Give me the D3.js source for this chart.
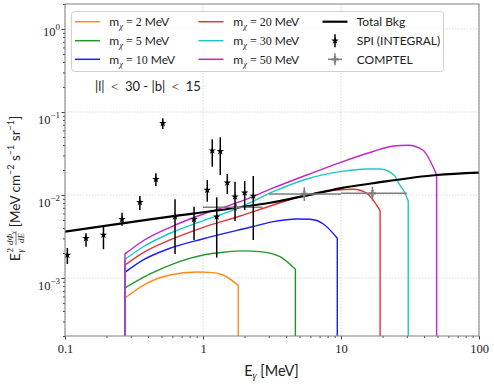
<!DOCTYPE html>
<html>
<head>
<meta charset="utf-8">
<script src="https://cdn.jsdelivr.net/npm/d3@7"></script>
<style>
  body { margin: 0; background: #fff; }
  svg { display: block; }
</style>
</head>
<body>
<script>
// ---------------- DATA ----------------
const xTicks = [0.1, 1, 10, 100];
const xTickLabels = ["0.1", "1", "10", "100"];
const yTicks = [1e-3, 1e-2, 1e-1, 1];
const yTickExponents = ["\u22123", "\u22122", "\u22121", "0"];

const floorFlux = 1e-6; // curves drop to (numerically) zero outside their range

// Total background
const bkgE    = [0.1, 0.413, 1.854, 3.06, 7.04, 10.0, 17.1, 49.3, 100];
const bkgFlux = [3.61e-3, 5.09e-3, 7.11e-3, 8.07e-3, 0.01066, 0.0121, 0.01384, 0.01742, 0.01858];

// Dark matter curves
const dmLabels = ["2", "5", "10", "20", "30", "50"];
const dm2E   = [0.272, 0.391, 0.577, 0.899, 1.124, 1.40, 1.80];
const dm2F   = [5.74e-4, 8.63e-4, 1.087e-3, 1.18e-3, 1.17e-3, 1.087e-3, 8.13e-4];
const dm5E   = [0.272, 0.413, 0.644, 1.005, 1.40, 1.96, 2.59, 3.61, 4.67];
const dm5F   = [7.58e-4, 1.117e-3, 1.53e-3, 1.89e-3, 2.04e-3, 2.12e-3, 2.08e-3, 1.81e-3, 1.27e-3];
const dm10E  = [0.272, 0.369, 0.577, 1.005, 2.19, 3.23, 4.78, 5.96, 7.45, 9.40];
const dm10F  = [1.17e-3, 1.65e-3, 2.28e-3, 2.97e-3, 4.08e-3, 4.77e-3, 5.14e-3, 5.10e-3, 4.47e-3, 3.01e-3];
const dm20E  = [0.272, 0.369, 0.577, 1.005, 1.854, 3.23, 5.64, 9.31, 12.3, 15.4, 19.2];
const dm20F  = [1.43e-3, 2.02e-3, 2.87e-3, 4.08e-3, 5.58e-3, 7.58e-3, 0.0100, 0.01149, 0.01172, 0.01048, 6.47e-3];
const dm30E  = [0.272, 0.369, 0.577, 1.005, 1.854, 3.23, 5.64, 9.84, 15.4, 19.2, 24.2, 26.4, 29.1, 30.7];
const dm30F  = [1.68e-3, 2.38e-3, 3.46e-3, 4.90e-3, 7.11e-3, 0.01096, 0.0156, 0.0191, 0.0206, 0.0206, 0.0174, 0.01358, 0.01048, 8.47e-3];
const dm50E  = [0.272, 0.369, 0.577, 1.005, 1.854, 3.23, 5.64, 9.84, 17.1, 23.9, 30.7, 39.1, 49.3];
const dm50F  = [1.95e-3, 2.81e-3, 4.08e-3, 5.90e-3, 8.30e-3, 0.01215, 0.0174, 0.0246, 0.0334, 0.0389, 0.0397, 0.0348, 0.0174];
const dmColors = ["#ff8a1c", "#23962a", "#1c1cff", "#e0363a", "#20c6c6", "#c423c9"];

// SPI (INTEGRAL)
const spiE    = [0.104, 0.142, 0.190, 0.259, 0.349, 0.456, 0.511, 0.627, 0.861, 1.074, 1.167, 1.257, 1.334, 1.50, 1.706, 2.005, 2.314];
const spiFlux = [1.89e-3, 3.01e-3, 3.30e-3, 5.09e-3, 8.17e-3, 0.01545, 0.0731, 5.48e-3, 5.09e-3, 0.01149, 0.0342, 5.48e-3, 0.0336, 0.01406, 9.54e-3, 0.01066, 9.73e-3];
const spiLo   = [1.475e-3, 2.38e-3, 2.22e-3, 4.27e-3, 6.6e-3, 0.01283, 0.0624, 1.95e-3, 2.87e-3, 8.3e-3, 0.0219, 1.76e-3, 0.0174, 0.01028, 4.86e-3, 6.6e-3, 2.87e-3];
const spiHi   = [2.30e-3, 3.46e-3, 4.15e-3, 6.12e-3, 9.73e-3, 0.01825, 0.0839, 8.87e-3, 7.23e-3, 0.01517, 0.0469, 9.38e-3, 0.0496, 0.0179, 0.01446, 0.01475, 0.01694];

// COMPTEL
const compE    = [1.73, 5.42, 16.9];
const compELo  = [1.0, 3.0, 10.0];
const compEHi  = [2.7, 10.0, 30.0];
const compFlux = [7.11e-3, 0.01028, 0.01048];
const compLo   = [6.42e-3, 8.47e-3, 8.5e-3];
const compHi   = [7.73e-3, 0.01239, 0.01256];

// ---------------- CHART ----------------
const W = 494, H = 384;
const L = 65, R = 479, T = 4, B = 336;
const sans = "Lato, 'Open Sans', sans-serif";
const serif = "'Liberation Serif', 'DejaVu Serif', serif";

const svg = d3.select("body").append("svg").attr("width", W).attr("height", H)
  .style("font-family", sans);

const x = d3.scaleLog().domain([0.1, 100]).range([L, R]);
const y = d3.scaleLog().domain([2e-4, 2]).range([B, T]);

svg.append("defs").append("clipPath").attr("id", "clip")
  .append("rect").attr("x", L).attr("y", T).attr("width", R - L).attr("height", B - T);

// grid
const grid = svg.append("g").attr("stroke", "#b0b0b0").attr("stroke-width", 0.7)
  .attr("stroke-dasharray", "1.5,1.5").attr("opacity", 0.7);
grid.selectAll(".gx").data(xTicks).join("line")
  .attr("x1", d => x(d)).attr("x2", d => x(d)).attr("y1", T).attr("y2", B);
grid.selectAll(".gy").data(yTicks).join("line")
  .attr("x1", L).attr("x2", R).attr("y1", d => y(d)).attr("y2", d => y(d));

const plot = svg.append("g").attr("clip-path", "url(#clip)");

// DM curves
const dmE = [dm2E, dm5E, dm10E, dm20E, dm30E, dm50E];
const dmF = [dm2F, dm5F, dm10F, dm20F, dm30F, dm50F];
const lineGen = d3.line().x(d => x(d[0])).y(d => y(d[1])).curve(d3.curveMonotoneX);
dmE.forEach((es, i) => {
  const pts = es.map((e, j) => [e, dmF[i][j]]);
  const inner = lineGen(pts);
  const first = es[0], last = es[es.length - 1];
  const path = "M" + x(first) + "," + y(floorFlux) + "L" + inner.slice(1) +
               "L" + x(last) + "," + y(floorFlux);
  plot.append("path").attr("d", path).attr("fill", "none")
    .attr("stroke", dmColors[i]).attr("stroke-width", 1.4);
});

// Total background
plot.append("path").datum(bkgE.map((e, i) => [e, bkgFlux[i]]))
  .attr("d", lineGen).attr("fill", "none").attr("stroke", "#000").attr("stroke-width", 2.2);

// COMPTEL
const compG = plot.append("g");
compE.forEach((e, i) => {
  compG.append("line").attr("x1", x(compELo[i])).attr("x2", x(compEHi[i]))
    .attr("y1", y(compFlux[i])).attr("y2", y(compFlux[i]))
    .attr("stroke", "#7f7f7f").attr("stroke-width", 1.5);
  compG.append("line").attr("x1", x(e)).attr("x2", x(e))
    .attr("y1", y(compLo[i])).attr("y2", y(compHi[i]))
    .attr("stroke", "#7f7f7f").attr("stroke-width", 1.5);
  compG.append("path").attr("d", d3.symbol(d3.symbolCross, 26)())
    .attr("transform", `translate(${x(e)},${y(compFlux[i])})`).attr("fill", "#7f7f7f");
});

// SPI
const spiG = plot.append("g");
spiE.forEach((e, i) => {
  spiG.append("line").attr("x1", x(e)).attr("x2", x(e))
    .attr("y1", y(spiLo[i])).attr("y2", y(spiHi[i]))
    .attr("stroke", "#000").attr("stroke-width", 1.5);
  spiG.append("path").attr("d", d3.symbol(d3.symbolStar, 17)())
    .attr("transform", `translate(${x(e)},${y(spiFlux[i])})`).attr("fill", "#000");
});

// ---------------- AXES ----------------
function minorTicks(lo, hi) {
  const out = [];
  for (let k = Math.floor(Math.log10(lo)); k <= Math.ceil(Math.log10(hi)); k++)
    for (let m = 2; m <= 9; m++) { const v = m * Math.pow(10, k); if (v >= lo && v <= hi) out.push(v); }
  return out;
}
const axisColor = "#444";
function styleAxis(g) { g.select(".domain").remove(); g.selectAll("line").attr("stroke", axisColor); }

svg.append("g").attr("transform", `translate(0,${B})`)
  .call(d3.axisBottom(x).tickValues(minorTicks(0.1, 100)).tickSize(2).tickFormat("")).call(styleAxis);
const xAx = svg.append("g").attr("transform", `translate(0,${B})`)
  .call(d3.axisBottom(x).tickValues(xTicks).tickSize(3.5).tickPadding(5)
    .tickFormat((d, i) => xTickLabels[i])).call(styleAxis);
xAx.selectAll("text").attr("font-family", serif).attr("font-size", 12.5).attr("fill", "#222");

svg.append("g").attr("transform", `translate(${L},0)`)
  .call(d3.axisLeft(y).tickValues(minorTicks(2e-4, 2)).tickSize(2).tickFormat("")).call(styleAxis);
const yAx = svg.append("g").attr("transform", `translate(${L},0)`)
  .call(d3.axisLeft(y).tickValues(yTicks).tickSize(3.5).tickFormat("")).call(styleAxis);
yAx.selectAll(".tick").each(function(d, i) {
  const t = d3.select(this).append("text").attr("x", -5).attr("y", i === 3 ? 7 : 12)
    .attr("text-anchor", "end").attr("font-family", serif).attr("fill", "#222");
  t.append("tspan").attr("font-size", 12.5).text("10");
  t.append("tspan").attr("font-size", 9).attr("dy", -6).text(yTickExponents[i]);
});

// frame
svg.append("rect").attr("x", L).attr("y", T).attr("width", R - L).attr("height", B - T)
  .attr("fill", "none").attr("stroke", "#808080").attr("stroke-width", 1);

// x label
const xl = svg.append("text").attr("x", 271.5).attr("y", 376).attr("text-anchor", "middle")
  .attr("font-size", 14.5).attr("fill", "#222");
xl.append("tspan").text("E");
xl.append("tspan").attr("font-family", serif).attr("font-style", "italic").attr("font-size", 10).attr("dy", 3).text("\u03b3");
xl.append("tspan").attr("dy", -3).text(" [MeV]");

// y label (rotated)
const yl = svg.append("g");
let cx = 0;
const e1 = yl.append("text").attr("x", cx).attr("y", 5).attr("font-size", 14).attr("fill", "#222").text("E");
cx += e1.node().getComputedTextLength() + 0.5;
yl.append("text").attr("x", cx).attr("y", -2).attr("font-size", 9).attr("font-family", serif).attr("fill", "#222").text("2");
const gam = yl.append("text").attr("x", cx).attr("y", 8).attr("font-size", 9).attr("font-family", serif)
  .attr("font-style", "italic").attr("fill", "#222").text("\u03b3");
cx += Math.max(gam.node().getComputedTextLength(), 5) + 2.5;
const num = yl.append("text").attr("y", -2).attr("font-size", 9).attr("font-family", serif)
  .attr("font-style", "italic").attr("fill", "#222");
num.append("tspan").text("d\u03a6");
num.append("tspan").attr("font-size", 6.5).attr("dy", 2).text("\u03b3");
const den = yl.append("text").attr("y", 9).attr("font-size", 9).attr("font-family", serif)
  .attr("font-style", "italic").attr("fill", "#222").text("dE");
const nw = num.node().getComputedTextLength(), dw = den.node().getComputedTextLength();
const fw = Math.max(nw, dw);
num.attr("x", cx + (fw - nw) / 2);
den.attr("x", cx + (fw - dw) / 2);
yl.append("line").attr("x1", cx).attr("x2", cx + fw).attr("y1", 1).attr("y2", 1)
  .attr("stroke", "#222").attr("stroke-width", 0.6);
cx += fw + 4;
const rest = yl.append("text").attr("x", cx).attr("y", 5).attr("font-size", 13.5).attr("fill", "#222");
rest.append("tspan").text("[MeV cm");
rest.append("tspan").attr("font-size", 9).attr("dy", -6).text("\u22122");
rest.append("tspan").attr("dy", 6).text(" s");
rest.append("tspan").attr("font-size", 9).attr("dy", -6).text("\u22121");
rest.append("tspan").attr("dy", 6).text(" sr");
rest.append("tspan").attr("font-size", 9).attr("dy", -6).text("\u22121");
rest.append("tspan").attr("dy", 6).text("]");
cx += rest.node().getComputedTextLength();
yl.attr("transform", `translate(15,${188.5}) rotate(-90) translate(${-cx / 2},0)`);

// annotation
const ann = svg.append("text").attr("x", 95).attr("y", 91).attr("font-size", 13).attr("fill", "#222");
ann.append("tspan").text("|l|\u2002");
ann.append("tspan").attr("font-family", serif).text("<");
ann.append("tspan").text("\u200230 - |b|\u2002");
ann.append("tspan").attr("font-family", serif).text("<");
ann.append("tspan").text("\u200215");

// ---------------- LEGEND ----------------
const lg = svg.append("g");
lg.append("rect").attr("x", 71.5).attr("y", 11.5).attr("width", 372).attr("height", 60)
  .attr("rx", 3).attr("fill", "#fff").attr("fill-opacity", 0.8).attr("stroke", "#d0d0d0");
const rowsY = [21.7, 40.7, 59.3];
const colHandle = [75, 198.5, 322.5];
const colText = [109.3, 233.3, 356.7];
dmLabels.forEach((lab, i) => {
  const c = Math.floor(i / 3), r = i % 3;
  lg.append("line").attr("x1", colHandle[c]).attr("x2", colHandle[c] + 25)
    .attr("y1", rowsY[r]).attr("y2", rowsY[r]).attr("stroke", dmColors[i]).attr("stroke-width", 1.5);
  const t = lg.append("text").attr("x", colText[c]).attr("y", rowsY[r] + 4.3)
    .attr("font-size", 12).attr("fill", "#222");
  t.append("tspan").text("m");
  t.append("tspan").attr("font-family", serif).attr("font-style", "italic").attr("font-size", 8.5).attr("dy", 3).text("\u03c7");
  t.append("tspan").attr("font-family", serif).attr("dy", -3).text(" = " + lab + " ");
  t.append("tspan").text("MeV");
});
// Total Bkg
lg.append("line").attr("x1", colHandle[2]).attr("x2", colHandle[2] + 25)
  .attr("y1", rowsY[0]).attr("y2", rowsY[0]).attr("stroke", "#000").attr("stroke-width", 2.2);
lg.append("text").attr("x", colText[2]).attr("y", rowsY[0] + 4.3).attr("font-size", 12).attr("fill", "#222").text("Total Bkg");
// SPI
const hx = colHandle[2] + 12.5;
lg.append("line").attr("x1", hx).attr("x2", hx).attr("y1", rowsY[1] - 6.5).attr("y2", rowsY[1] + 6.5)
  .attr("stroke", "#000").attr("stroke-width", 1.5);
lg.append("path").attr("d", d3.symbol(d3.symbolStar, 17)()).attr("transform", `translate(${hx},${rowsY[1]})`).attr("fill", "#000");
lg.append("text").attr("x", colText[2]).attr("y", rowsY[1] + 4.3).attr("font-size", 12).attr("fill", "#222").text("SPI (INTEGRAL)");
// COMPTEL
lg.append("line").attr("x1", hx - 7).attr("x2", hx + 7).attr("y1", rowsY[2]).attr("y2", rowsY[2])
  .attr("stroke", "#7f7f7f").attr("stroke-width", 1.5);
lg.append("line").attr("x1", hx).attr("x2", hx).attr("y1", rowsY[2] - 6).attr("y2", rowsY[2] + 6)
  .attr("stroke", "#7f7f7f").attr("stroke-width", 1.5);
lg.append("path").attr("d", d3.symbol(d3.symbolCross, 26)()).attr("transform", `translate(${hx},${rowsY[2]})`).attr("fill", "#7f7f7f");
lg.append("text").attr("x", colText[2]).attr("y", rowsY[2] + 4.3).attr("font-size", 12).attr("fill", "#222").text("COMPTEL");
</script>
</body>
</html>
